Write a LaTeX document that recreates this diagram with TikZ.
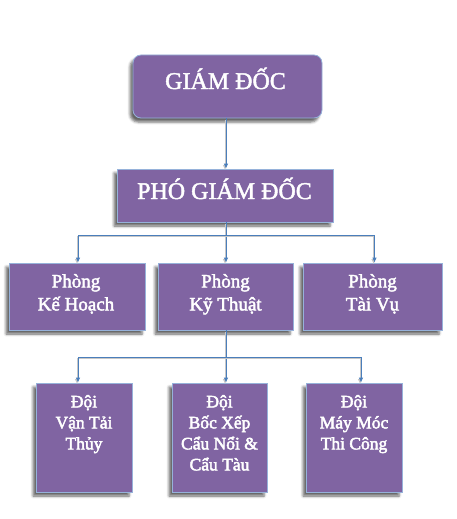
\documentclass[tikz,border=0pt]{standalone}
\usepackage{fontspec}
\setmainfont{Liberation Serif}
\usetikzlibrary{arrows.meta,shadows.blur}
\definecolor{boxfill}{RGB}{128,100,162}
\definecolor{boxline}{RGB}{150,178,218}
\definecolor{linkc}{RGB}{74,126,187}
% slightly heavier glyphs: fill and stroke the text outlines
\newcommand{\heavytext}[1]{\special{pdf:literal direct 2 Tr 0.45 w 1 1 1 RG}#1\special{pdf:literal direct 0 Tr}}
\tikzset{
  unitbox/.style={fill=boxfill, draw=boxline, line width=0.8pt, inner sep=0pt,
    blur shadow={shadow xshift=-3pt, shadow yshift=-4pt, shadow blur radius=2.5pt, shadow opacity=60}},
  label/.style={text=white, inner sep=0pt, align=center},
  bigtxt/.style={label, font=\fontsize{24}{28}\selectfont},
  midtxt/.style={label, font=\fontsize{19}{23}\selectfont},
  smalltxt/.style={label, font=\fontsize{17.5}{21}\selectfont},
  link/.style={draw=linkc, line width=0.9pt,
    preaction={draw=black!22, line width=0.9pt, transform canvas={shift={(-1pt,-1.5pt)}}}},
  arrowlink/.style={link, -{Latex[length=5pt,width=4.5pt]}},
}
\begin{document}
\begin{tikzpicture}[x=1pt,y=-1pt]
\useasboundingbox (0,0) rectangle (456,519);

% director
\node[unitbox, rounded corners=8pt, minimum width=189pt, minimum height=63pt] (gd) at (227.5,86.5) {};
\node[bigtxt, anchor=base] (gdt) at (225.5,89) {\heavytext{GIÁM ĐỐC}};

% deputy director
\node[unitbox, minimum width=216pt, minimum height=53pt] (pgd) at (225,195.5) {};
\node[bigtxt, anchor=base] (pgdt) at (224.5,199) {\heavytext{PHÓ GIÁM ĐỐC}};

% departments
\node[unitbox, minimum width=136pt, minimum height=67pt] (kh) at (77,296.5) {};
\node[unitbox, minimum width=135pt, minimum height=67pt] (kt) at (225.5,296.5) {};
\node[unitbox, minimum width=139pt, minimum height=67pt] (tv) at (372.5,296.5) {};
\node[midtxt, anchor=north] (kht) at (76,274) {\heavytext{Phòng\\Kế Hoạch}};
\node[midtxt, anchor=north] (ktt) at (225.5,274) {\heavytext{Phòng\\Kỹ Thuật}};
\node[midtxt, anchor=north] (tvt) at (372.5,274) {\heavytext{Phòng\\Tài Vụ}};

% teams
\node[unitbox, minimum width=96pt, minimum height=109pt] (vt) at (84,437.5) {};
\node[unitbox, minimum width=95pt, minimum height=109pt] (bx) at (219.5,437.5) {};
\node[unitbox, minimum width=96pt, minimum height=109pt] (mm) at (354,437.5) {};
\node[smalltxt, anchor=north] (vtt) at (84,395) {\heavytext{Đội\\Vận Tải\\Thủy}};
\node[smalltxt, anchor=north] (bxt) at (219.5,395) {\heavytext{Đội\\Bốc Xếp\\Cẩu Nổi \&\\Cẩu Tàu}};
\node[smalltxt, anchor=north] (mmt) at (354,395) {\heavytext{Đội\\Máy Móc\\Thi Công}};

% connectors
\coordinate (j1) at (226,235);
\coordinate (j2) at (226,357);
\draw[arrowlink] (gd.south -| j1) -- (pgd.north -| j1);
\draw[link] (pgd.south -| j1) -- (j1);
\draw[arrowlink] (j1) -| ([xshift=1pt]kh.north);
\draw[arrowlink] (j1) -- (kt.north -| j1);
\draw[arrowlink] (j1) -| ([xshift=2pt]tv.north);
\draw[link] (kt.south -| j2) -- (j2);
\draw[arrowlink] (j2) -| ([xshift=-6pt]vt.north);
\draw[arrowlink] (j2) -- (bx.north -| j2);
\draw[arrowlink] (j2) -| ([xshift=7pt]mm.north);
\end{tikzpicture}
\end{document}
